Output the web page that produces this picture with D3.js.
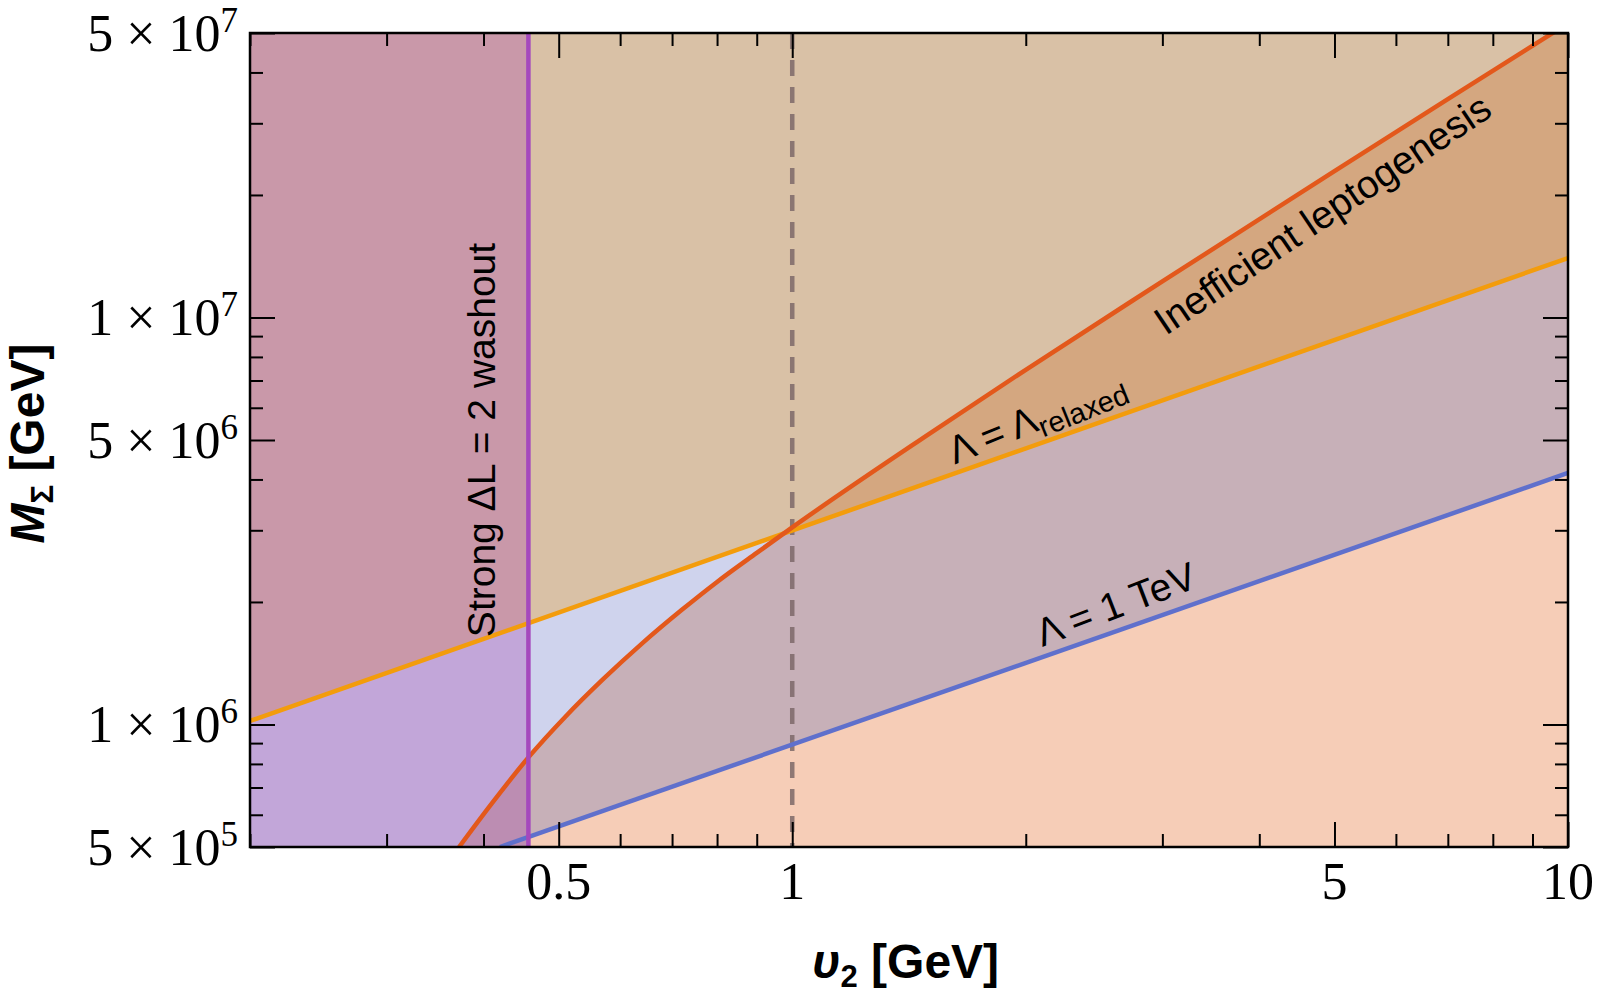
<!DOCTYPE html>
<html>
<head>
<meta charset="utf-8">
<script src="https://cdn.jsdelivr.net/npm/d3@7"></script>
<style>
  body { margin: 0; background: #fff; }
  svg { display: block; }
  .tick-label { font-family: 'Liberation Serif', 'Times New Roman', serif; font-size: 52px; fill: #000; }
  .axis-title { font-family: 'Liberation Sans', Arial, sans-serif; font-weight: bold; font-size: 48px; fill: #000; }
  .note { font-family: 'Liberation Sans', Arial, sans-serif; font-size: 39px; fill: #000; }
  .axis path { display: none; }
  .axis line { stroke: #000; stroke-width: 2; }
</style>
</head>
<body>
<svg width="1600" height="998"></svg>
<script>
// curves: v2 [GeV] and M_Sigma [GeV]
const relaxedV = [0.2, 10];            // Lambda = Lambda_relaxed
const relaxedM = [1.02e6, 1.40e7];
const teVV = [0.42, 10];               // Lambda = 1 TeV
const teVM = [5.0e5, 4.15e6];
const leptoV = [0.372, 0.41, 0.457, 0.51, 0.57, 0.64, 0.72, 0.80, 0.90, 1.0, 1.5, 2, 3, 5, 7, 10];
const leptoM = [5.0e5, 6.4e5, 8.3e5, 1.045e6, 1.29e6, 1.58e6, 1.91e6, 2.24e6, 2.64e6, 3.05e6, 5.17e6, 7.44e6, 1.226e7, 2.29e7, 3.44e7, 5.28e7];
const washoutV = 0.457;                // strong Delta L = 2 washout edge
const dashedV = 1;

// ticks
const xMajor = [0.5, 1, 5, 10];
const xMinor = [0.2, 0.3, 0.4, 0.6, 0.7, 0.8, 0.9, 2, 3, 4, 6, 7, 8, 9];
const yMajorMant = [5, 1, 5, 1, 5];
const yMajorExp = [5, 6, 6, 7, 7];
const yMinor = [6e5, 7e5, 8e5, 9e5, 2e6, 3e6, 4e6, 6e6, 7e6, 8e6, 9e6, 2e7, 3e7, 4e7];

const svg = d3.select('svg');
const marginLeft = 250, marginTop = 33;
const width = 1318, height = 814;

const chart = svg.append('g').attr('transform', `translate(${marginLeft}, ${marginTop})`);

const x = d3.scaleLog().domain([0.2, 10]).range([0, width]);
const y = d3.scaleLog().domain([5e5, 5e7]).range([height, 0]);

const pts = (V, M) => V.map((v, i) => [v, M[i]]);
const relaxed = pts(relaxedV, relaxedM);
const teV = pts(teVV, teVM);
const lepto = pts(leptoV, leptoM);

const defs = svg.append('defs');
defs.append('clipPath').attr('id', 'plot')
  .append('rect').attr('width', width).attr('height', height);
defs.append('clipPath').attr('id', 'leftband')
  .append('rect').attr('width', x(washoutV)).attr('height', height);

const below = d3.area().x(d => x(d[0])).y0(height + 10).y1(d => y(d[1]));
const above = d3.area().x(d => x(d[0])).y0(-10).y1(d => y(d[1]));
const leptoBelow = d3.area().curve(d3.curveMonotoneX).x(d => x(d[0])).y0(height + 10).y1(d => y(d[1]));

defs.append('clipPath').attr('id', 'aboveRelaxed')
  .append('path').attr('d', above(relaxed));

// filled regions
const fills = chart.append('g').attr('clip-path', 'url(#plot)');
fills.append('rect').attr('width', width).attr('height', height).attr('fill', '#d9c1a6');
fills.append('path').attr('d', below(relaxed)).attr('fill', '#cfd3ed');
fills.append('path').attr('d', leptoBelow(lepto)).attr('fill', '#c7b0b8');
fills.append('g').attr('clip-path', 'url(#aboveRelaxed)')
  .append('path').attr('d', leptoBelow(lepto)).attr('fill', '#d4a780');
fills.append('path').attr('d', below(teV)).attr('fill', '#f6cdb7');

const band = fills.append('g').attr('clip-path', 'url(#leftband)');
band.append('rect').attr('width', width).attr('height', height).attr('fill', '#c998a9');
band.append('path').attr('d', below(relaxed)).attr('fill', '#c2a6d9');
band.append('path').attr('d', leptoBelow(lepto)).attr('fill', '#bc8db2');

// curves
const line = d3.line().x(d => x(d[0])).y(d => y(d[1]));
const lines = chart.append('g').attr('clip-path', 'url(#plot)').attr('fill', 'none').attr('stroke-width', 4.5);
lines.append('line')
  .attr('x1', x(dashedV)).attr('x2', x(dashedV)).attr('y1', 0).attr('y2', height)
  .attr('stroke', '#7d6868').attr('stroke-opacity', 0.85).attr('stroke-dasharray', '16 11');
lines.append('path').attr('d', line(relaxed)).attr('stroke', '#f39c0c');
lines.append('path').attr('d', line(teV)).attr('stroke', '#5f70cc');
lines.append('path').attr('d', line.curve(d3.curveMonotoneX)(lepto)).attr('stroke', '#e3581b');
lines.append('line')
  .attr('x1', x(washoutV)).attr('x2', x(washoutV)).attr('y1', 0).attr('y2', height)
  .attr('stroke', '#a548bd');

// frame ticks (inward on all four sides)
const addTicks = (axis, tr, vals, size) => chart.append('g').attr('class', 'axis')
  .attr('transform', tr)
  .call(axis.tickValues(vals).tickSize(size).tickFormat(''));
addTicks(d3.axisBottom(x), `translate(0, ${height})`, xMajor, -25);
addTicks(d3.axisBottom(x), `translate(0, ${height})`, xMinor, -13);
addTicks(d3.axisTop(x), 'translate(0, 0)', xMajor, -25);
addTicks(d3.axisTop(x), 'translate(0, 0)', xMinor, -13);
const yMajor = yMajorMant.map((m, i) => m * 10 ** yMajorExp[i]);
addTicks(d3.axisLeft(y), 'translate(0, 0)', yMajor, -25);
addTicks(d3.axisLeft(y), 'translate(0, 0)', yMinor, -13);
addTicks(d3.axisRight(y), `translate(${width}, 0)`, yMajor, -25);
addTicks(d3.axisRight(y), `translate(${width}, 0)`, yMinor, -13);

chart.append('rect').attr('width', width).attr('height', height)
  .attr('fill', 'none').attr('stroke', '#000').attr('stroke-width', 2.5);

// tick labels
xMajor.forEach(v => {
  chart.append('text').attr('class', 'tick-label')
    .attr('x', x(v)).attr('y', height + 52)
    .attr('text-anchor', 'middle')
    .text(v);
});
yMajor.forEach((v, i) => {
  const t = chart.append('text').attr('class', 'tick-label')
    .attr('x', -12).attr('y', y(v) + 18)
    .attr('text-anchor', 'end');
  t.append('tspan').text(`${yMajorMant[i]} × 10`);
  t.append('tspan').attr('dy', -19).attr('font-size', 35).text(yMajorExp[i]);
});

// axis titles
const xt = svg.append('text').attr('class', 'axis-title')
  .attr('x', marginLeft + x(1.4)).attr('y', 978).attr('text-anchor', 'middle');
xt.append('tspan').attr('font-style', 'italic').text('υ');
xt.append('tspan').attr('font-size', 31).attr('dy', 9).text('2');
xt.append('tspan').attr('dy', -9).text(' [GeV]');

const yt = svg.append('text').attr('class', 'axis-title')
  .attr('transform', `translate(44, ${marginTop + y(4.9e6)}) rotate(-90)`)
  .attr('text-anchor', 'middle');
yt.append('tspan').attr('font-style', 'italic').text('M');
yt.append('tspan').attr('font-size', 31).attr('dy', 9).text('Σ');
yt.append('tspan').attr('dy', -9).text(' [GeV]');

// annotations
chart.append('text').attr('class', 'note')
  .attr('transform', `translate(${x(washoutV) - 33}, ${y(5.0e6)}) rotate(-90)`)
  .attr('text-anchor', 'middle')
  .text('Strong ΔL = 2 washout');

chart.append('text').attr('class', 'note')
  .attr('font-size', 40)
  .attr('transform', `translate(${x(3.03)}, ${y(9.0e6)}) rotate(-34)`)
  .text('Inefficient leptogenesis');

const rl = chart.append('text').attr('class', 'note')
  .attr('font-size', 40)
  .attr('transform', `translate(${x(1.62)}, ${y(4.35e6)}) rotate(-22)`);
rl.append('tspan').text('Λ = Λ');
rl.append('tspan').attr('font-size', 29).attr('dy', 8).text('relaxed');

chart.append('text').attr('class', 'note')
  .attr('font-size', 40)
  .attr('transform', `translate(${x(2.1)}, ${y(1.55e6)}) rotate(-21)`)
  .text('Λ = 1 TeV');
</script>
</body>
</html>
